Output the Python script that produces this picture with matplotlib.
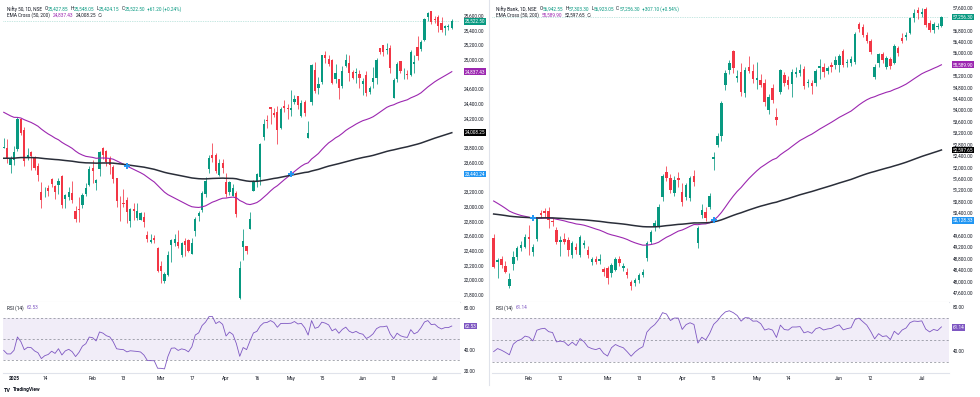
import numpy as np
import matplotlib
matplotlib.use("Agg")
import matplotlib.pyplot as plt
from matplotlib.lines import Line2D

plt.rcParams['font.family'] = ['Roboto', 'DejaVu Sans']

# Nifty 50, daily bars from 27 Dec 2024 (bar -3) to 8 Jul 2025 (bar 128)
nifty_start = -3
nifty_open = [23801, 23797, 23561, 23637, 23783, 24196, 24045, 23679, 23746, 23675, 23551,
              23195, 23165, 23250, 23378, 23277, 23290, 23421, 23099, 23129, 23183, 22940, 22960, 23026, 23169, 23296,
              23528, 23319, 23509, 23802, 23761, 23649, 23543, 23383, 23050, 23055, 23096, 22809, 22963, 22847, 22821,
              22857, 22609, 22516, 22568, 22433,
              22194, 21989, 22073, 22476, 22508, 22521, 22345, 22536, 22541, 22354, 22662, 22874, 22951, 23168, 23515,
              23701, 23700, 23433, 23600,
              23341, 23192, 23150, 23190, 21758, 22446, 22460, 22695, 23208, 23345, 23401, 23949, 24185, 24357, 24277,
              24289, 24070, 24370, 24342,
              24311, 24419, 24500, 24233, 24431, 23936, 24420, 24864, 24614, 24694, 25064, 25005, 24996, 24744, 24733,
              24639, 24919, 24957, 24832, 24826, 24812,
              24669, 24786, 24560, 24691, 24748, 25160, 25197, 25134, 25164, 24473, 24732, 24977, 24803, 24803, 24788,
              24939, 25179, 25150, 25268, 25576, 25661,
              25551, 25588, 25505, 25428, 25450, 25427.85]
nifty_high = [23938, 23916, 23689, 23822, 24226, 24196, 24089, 23795, 23752, 23690, 23596,
              23340, 23264, 23294, 23391, 23292, 23391, 23426, 23170, 23271, 23347, 23007, 23137, 23183, 23322, 23546,
              23632, 23381, 23763, 23807, 23773, 23694, 23568, 23390, 23144, 23235, 23133, 22975, 23050, 23050, 22923,
              22922, 22668, 22626, 22613, 22450,
              22261, 22105, 22394, 22556, 22633, 22677, 22522, 22577, 22558, 22578, 22858, 22941, 23216, 23403, 23709,
              23870, 23736, 23646, 23649,
              23459, 23350, 23306, 23214, 22254, 22698, 22468, 22923, 23368, 23452, 23872, 24189, 24242, 24359, 24347,
              24365, 24355, 24457, 24396,
              24589, 24526, 24509, 24449, 24447, 24164, 24944, 24973, 24767, 25071, 25116, 25071, 25011, 24946, 24737,
              24909, 25079, 25062, 24864, 24892, 24864,
              24754, 24845, 24644, 24899, 25029, 25160, 25199, 25223, 25196, 24754, 24967, 24983, 24891, 24864, 25137,
              25058, 25317, 25266, 25565, 25654, 25669,
              25593, 25608, 25587, 25470, 25489, 25548.05]
nifty_low = [23800, 23600, 23460, 23562, 23751, 23976, 23551, 23637, 23496, 23503, 23344,
             22987, 23134, 23147, 23273, 23100, 23170, 22976, 22981, 23090, 23050, 22787, 22786, 22976, 23140, 23278,
             23318, 23222, 23423, 23648, 23556, 23443, 23316, 23000, 22798, 22992, 22775, 22725, 22814, 22814, 22812,
             22720, 22519, 22508, 22508, 22105,
             21964, 21964, 22057, 22246, 22464, 22429, 22315, 22329, 22377, 22353, 22599, 22807, 22924, 23132, 23452,
             23601, 23452, 23412, 23451,
             23136, 23158, 23145, 22857, 21743, 22271, 22353, 22695, 23207, 23273, 23298, 23903, 24073, 24119, 24216,
             23848, 24054, 24290, 24199,
             24238, 24400, 24331, 24220, 24238, 23936, 24378, 24547, 24535, 24674, 24953, 24917, 24669, 24686, 24463,
             24614, 24900, 24704, 24737, 24677, 24614,
             24526, 24502, 24530, 24613, 24671, 25077, 25055, 25082, 24825, 24473, 24703, 24813, 24734, 24733, 24784,
             24824, 24999, 25125, 25259, 25523, 25489,
             25501, 25378, 25384, 25331, 25407, 25424.15]
nifty_close = [23813, 23645, 23645, 23742, 24189, 24005, 23616, 23708, 23689, 23527, 23432,
               23086, 23176, 23213, 23312, 23203, 23345, 23025, 23155, 23205, 23092, 22829, 22957, 23163, 23250, 23508,
               23482, 23361, 23739, 23696, 23603, 23560, 23381, 23072, 23045, 23031, 22929, 22960, 22945, 22933, 22913,
               22796, 22553, 22547, 22545, 22125,
               22119, 22083, 22337, 22545, 22553, 22460, 22498, 22470, 22397, 22509, 22834, 22907, 23190, 23350, 23658,
               23668, 23487, 23592, 23519,
               23165, 23332, 23250, 22904, 22162, 22536, 22399, 22829, 23328, 23437, 23852, 24125, 24167, 24329, 24247,
               24039, 24328, 24336, 24334,
               24347, 24461, 24380, 24414, 24273, 24008, 24925, 24578, 24667, 25062, 25020, 24945, 24683, 24813, 24610,
               24853, 25001, 24826, 24752, 24833, 24751,
               24717, 24543, 24621, 24751, 25003, 25103, 25105, 25141, 24888, 24718, 24947, 24853, 24812, 24794, 25112,
               24972, 25045, 25245, 25549, 25637, 25517,
               25542, 25454, 25405, 25461, 25461.3, 25522.5]
nifty_ticks = [0, 9, 23, 32, 43, 52, 62, 71, 81, 90, 102, 111, 123]
nifty_tick_labels = ['2025', '14', 'Feb', '13', 'Mar', '17', 'Apr', '16', 'May', '15', 'Jun', '13', 'Jul']
nifty_price_ticks = list(range(21800, 25601, 200))

# Nifty Bank, daily bars from 21 Jan 2025 (bar 14) to 8 Jul 2025 (bar 128)
bank_start = 14
bank_open = [49500, 48680, 48780, 48540, 47830, 48610, 48860, 49150, 49210,
             49560, 49040, 49480, 50400, 50470, 50470, 50120, 49800, 49390, 49480, 49450, 48920, 49190, 48920, 49280,
             49100, 48690, 48770, 48720, 48420,
             48450, 48280, 48400, 48770, 48470, 48340, 47990, 47930, 48050, 48220, 48800, 49390, 49910, 49910, 50960,
             51840, 51607, 51080, 51607,
             51140, 50965, 50906, 51688, 49330, 50330, 50440, 50614, 52300, 52775, 53090, 54877, 55403, 56080, 55110,
             55345, 54585, 55496, 55380,
             55052, 55053, 54936, 54001, 54760, 53750, 54644, 55228, 55053, 54900, 55260, 55310, 55427, 54935, 54936,
             54936, 55461, 55520, 55380, 55578, 55578,
             55578, 56080, 55636, 55660, 55695, 57015, 56921, 56630, 56431, 55146, 55637, 55964, 55520, 55777, 55637,
             56162, 56513, 56571, 56688, 57213, 57505,
             57365, 57529, 57038, 56805, 56900, 56942.55]
bank_high = [49650, 48800, 48900, 48700, 48280, 49050, 49250, 49420, 49650,
             49970, 49300, 50250, 50500, 50560, 50610, 50200, 49900, 49600, 49700, 49550, 49400, 49350, 49620, 49450,
             49250, 48850, 48900, 48950, 48500,
             48550, 48650, 48850, 48900, 48650, 48450, 48050, 48100, 48300, 48420, 49400, 49800, 50150, 50700, 51750,
             52040, 51750, 51700, 51840,
             51450, 51450, 51700, 51900, 49950, 50700, 50600, 51100, 52541, 53200, 54300, 55400, 55750, 56100, 55400,
             55650, 55500, 55900, 55600,
             55700, 55250, 55100, 54550, 54900, 54060, 55450, 55350, 55200, 55450, 55500, 55600, 55550, 55100, 55050,
             55450, 55800, 55650, 55550, 55700, 55900,
             55950, 56150, 55800, 55900, 56750, 57100, 57000, 56750, 56500, 55600, 56000, 56050, 55900, 55850, 56300,
             56250, 56700, 56750, 57250, 57550, 57610,
             57580, 57620, 57150, 57100, 57050, 57303.3]
bank_low = [48450, 48100, 48480, 48280, 47780, 48400, 48750, 49050, 49150,
            48920, 48900, 49420, 50200, 50250, 49850, 49950, 49300, 48900, 49300, 48900, 48800, 48950, 48850, 49150,
            48800, 48580, 48600, 48620, 48200,
            47900, 48150, 48350, 48550, 48350, 48100, 47690, 47850, 47950, 48150, 48700, 49300, 49750, 49850, 50800,
            51500, 51100, 50980, 51300,
            50650, 50850, 50800, 51350, 49150, 50200, 50100, 50550, 51899, 52700, 52900, 54700, 55250, 55300, 55000,
            54500, 54450, 55300, 54950,
            54750, 54800, 54150, 53850, 54250, 53476, 54550, 54850, 54750, 54469, 55150, 55200, 54750, 54800, 54560,
            54850, 55100, 55150, 55250, 55350, 55450,
            55350, 55500, 55500, 55550, 55600, 56750, 56550, 56350, 55950, 55100, 55500, 55650, 55450, 55450, 55600,
            55900, 56350, 56450, 56650, 57100, 57200,
            57250, 56900, 56750, 56700, 56850, 56923.05]
bank_close = [48510, 48745, 48570, 48340, 48070, 48860, 49150, 49270, 49560,
              49480, 49190, 50170, 50320, 50380, 50150, 50090, 49390, 49450, 49390, 49100, 49330, 49080, 49560, 49330,
              48920, 48770, 48690, 48770, 48340,
              48100, 48570, 48770, 48630, 48530, 48220, 47830, 48050, 48220, 48340, 49330, 49740, 50050, 50610, 51690,
              51607, 51198, 51550, 51548,
              50790, 51373, 51607, 51490, 49855, 50497, 50205, 50988, 52366, 53090, 54258, 55286, 55637, 55460, 55193,
              54644, 55403, 55380, 55076,
              55110, 54877, 54293, 54468, 54352, 53650, 55403, 54936, 54877, 55345, 55345, 55403, 54842, 54995, 54842,
              55380, 55543, 55345, 55461, 55520, 55753,
              55894, 55578, 55695, 55777, 56664, 56828, 56629, 56431, 56045, 55520, 55964, 55754, 55812, 55543, 56244,
              56010, 56431, 56630, 57213, 57412, 57388,
              57447, 56980, 56805, 57015, 56949.2, 57256.3]
bank_ticks = [23, 31, 43, 51, 62, 70, 81, 89, 102, 110, 123]
bank_tick_labels = ['Feb', '12', 'Mar', '13', 'Apr', '15', 'May', '14', 'Jun', '12', 'Jul']
bank_price_ticks = list(range(47600, 57601, 400))

UP, DOWN = '#089981', '#f23645'
TXT = '#131722'
PURPLE = '#9c27b0'
RSI_C = '#7e57c2'
BLUE = '#2196f3'
W, H = 980, 397
MAIN_TOP, MAIN_BOT, RSI_BOT = 1, 302, 373

fig = plt.figure(figsize=(W / 100, H / 100), dpi=100)
fig.patch.set_facecolor('white')


def rect(x0, y0, x1, y1):
    return [x0 / W, 1 - y1 / H, (x1 - x0) / W, (y1 - y0) / H]


def ema(values, first, n):
    a = 2 / (n + 1)
    out = [first]
    for v in values[1:]:
        out.append(out[-1] + a * (v - out[-1]))
    return np.array(out)


def rsi(values, gain, loss, n=14):
    out = [100 - 100 / (1 + gain / loss)]
    for d in np.diff(values):
        gain = (gain * (n - 1) + max(d, 0)) / n
        loss = (loss * (n - 1) + max(-d, 0)) / n
        out.append(100 - 100 / (1 + gain / loss))
    return np.array(out)


def text_run(x, y, parts, size=3.4):
    r = fig.canvas.get_renderer()
    for s, color, gap in parts:
        t = fig.text(x / W, 1 - y / H, s, fontsize=size, color=color, va='center', ha='left')
        x += t.get_window_extent(r).width + gap


def tag(ax, width_px, y, txt, fc):
    ax.text(1 + 4.5 / width_px, y, txt, transform=ax.get_yaxis_transform(), ha='left', va='center',
            fontsize=3.4, color='white', clip_on=False, zorder=6,
            bbox=dict(boxstyle='square,pad=0.15', fc=fc, ec='none'))


def free_ticks(ticks, tags, lim, height_px, gap_px=5.5):
    # like TradingView: a scale label is hidden under a value tag
    per_px = (lim[1] - lim[0]) / height_px
    return [t for t in ticks if all(abs(t - v) / per_px >= gap_px for v in tags)]


def panel(p):
    x0, x1 = p['x_px']
    wpx = x1 - x0
    main = fig.add_axes(rect(x0, MAIN_TOP, x1, MAIN_BOT))
    low = fig.add_axes(rect(x0, MAIN_BOT, x1, RSI_BOT), sharex=main)

    o, h, l, c = (np.array(p[k], float) for k in ('open', 'high', 'low', 'close'))
    x = np.arange(len(c)) + p['start']
    colors = np.where(c >= o, UP, DOWN)
    main.vlines(x, l, h, colors=colors, lw=0.55, zorder=2)
    main.bar(x, np.maximum(np.abs(c - o), p['min_body']), bottom=np.minimum(o, c), width=0.64,
             color=colors, lw=0, zorder=3)

    e50 = ema(c, p['ema50_first'], 50)
    e200 = ema(c, p['ema200_first'], 200)
    main.plot(x, e50, color=PURPLE, lw=0.8, zorder=4)
    main.plot(x, e200, color='#2a2e39', lw=1.1, zorder=4)
    side = np.sign(e50 - e200)
    cross = np.where(side[1:] != side[:-1])[0] + 1
    main.plot(x[cross], e50[cross], '+', color=BLUE, ms=4, mew=1.4, zorder=5)
    main.axhline(c[-1], color=UP, lw=0.5, ls=(0, (1, 1.5)), alpha=0.45, zorder=1)

    tag_vals = [t[0] for t in p['tags']]
    pt = free_ticks(p['price_ticks'], tag_vals, p['ylim'], MAIN_BOT - MAIN_TOP)
    main.set_yticks(pt)
    main.set_yticklabels([f'{v:,.2f}' for v in pt])
    main.set_ylim(p['ylim'])

    r = rsi(c, p['rsi_gain'], p['rsi_loss'])
    low.axhspan(30, 70, color=RSI_C, alpha=0.1, lw=0)
    for lv in (70, 50, 30):
        low.axhline(lv, color='#787b86', lw=0.5, ls=(0, (3, 3)), alpha=0.9)
    low.plot(x, r, color=RSI_C, lw=0.6)
    rt = free_ticks([20, 40, 60, 80], [p['rsi_last']], p['rsi_ylim'], RSI_BOT - MAIN_BOT)
    rt = [t for t in rt if p['rsi_ylim'][0] <= t <= p['rsi_ylim'][1]]
    low.set_yticks(rt)
    low.set_yticklabels([f'{t:.2f}' for t in rt])
    low.set_ylim(p['rsi_ylim'])

    for ax in (main, low):
        for s in ax.spines.values():
            s.set_visible(False)
        ax.spines['bottom'].set_visible(True)
        ax.spines['bottom'].set_color('#e0e3eb')
        ax.spines['bottom'].set_linewidth(0.8)
        ax.yaxis.tick_right()
        ax.tick_params(axis='y', length=0, pad=3, labelsize=3.4, labelcolor=TXT)
        ax.tick_params(axis='x', length=0)
    main.tick_params(axis='x', labelbottom=False)
    low.set_xticks(p['ticks'])
    low.set_xticklabels(p['tick_labels'])
    low.tick_params(axis='x', pad=2.2, labelsize=3.4, labelcolor=TXT)
    if p['tick_labels'][0] == '2025':
        low.get_xticklabels()[0].set_fontweight('bold')
    main.set_xlim(p['xlim'])

    for val, txt, fc in p['tags']:
        tag(main, wpx, val, txt, fc)
    tag(low, wpx, p['rsi_last'], f"{p['rsi_last']:.2f}", RSI_C)

    text_run(x0 + 4, 9, p['head1'])
    text_run(x0 + 4, 15.5, p['head2'])
    text_run(x0 + 4, 307.7, [('RSI (14)', TXT, 3), (f"{p['rsi_last']:.2f}", RSI_C, 0)])


def ohlc_head(name, o, h, l, c, chg):
    return [(name, TXT, 3), ('O', TXT, 0), (o, UP, 2), ('H', TXT, 0), (h, UP, 2),
            ('L', TXT, 0), (l, UP, 2), ('C', TXT, 0), (c, UP, 2), (chg, UP, 0)]


panel(dict(
    x_px=(3, 460), start=nifty_start, open=nifty_open, high=nifty_high, low=nifty_low, close=nifty_close,
    min_body=8, ema50_first=24284, ema200_first=23658, rsi_gain=55, rsi_loss=85,
    price_ticks=nifty_price_ticks, ylim=(21700, 25800), rsi_ylim=(17.8, 85.4), xlim=(-3.22, 130.4),
    ticks=nifty_ticks, tick_labels=nifty_tick_labels, rsi_last=62.53,
    tags=[(25522.5, '25,522.50', UP), (24837.43, '24,837.43', PURPLE),
          (24008.25, '24,008.25', '#000000'), (23440.24, '23,440.24', BLUE)],
    head1=ohlc_head('Nifty 50, 1D, NSE', '25,427.85', '25,548.05', '25,424.15', '25,522.50', '+61.20 (+0.24%)'),
    head2=[('EMA Cross (50, 200)', TXT, 3), ('24,837.43', PURPLE, 2), ('24,008.25', TXT, 2), ('\u2205', TXT, 0)],
))

panel(dict(
    x_px=(492, 948.5), start=bank_start, open=bank_open, high=bank_high, low=bank_low, close=bank_close,
    min_body=20, ema50_first=50813, ema200_first=50357, rsi_gain=150, rsi_loss=230,
    price_ticks=bank_price_ticks, ylim=(47274, 57821), rsi_ylim=(20.2, 84.2), xlim=(13.58, 129.8),
    ticks=bank_ticks, tick_labels=bank_tick_labels, rsi_last=61.14,
    tags=[(57256.3, '57,256.30', UP), (55589.9, '55,589.90', PURPLE),
          (52597.65, '52,597.65', '#000000'), (50128.33, '50,128.33', BLUE)],
    head1=ohlc_head('Nifty Bank, 1D, NSE', '56,942.55', '57,303.30', '56,923.05', '57,256.30', '+307.10 (+0.54%)'),
    head2=[('EMA Cross (50, 200)', TXT, 3), ('55,589.90', PURPLE, 2), ('52,597.65', TXT, 2), ('\u2205', TXT, 0)],
))

fig.add_artist(Line2D([488.5 / W, 488.5 / W], [1 - 385 / H, 1], color='#e0e3eb', lw=0.8))
fig.text(4 / W, 1 - 390 / H, 'TV', fontsize=4, fontweight='bold', color=TXT, va='center')
fig.text(12.5 / W, 1 - 390 / H, 'TradingView', fontsize=3.6, fontweight='bold', color=TXT, va='center')

fig.savefig('out.png', dpi=100, facecolor='white')
